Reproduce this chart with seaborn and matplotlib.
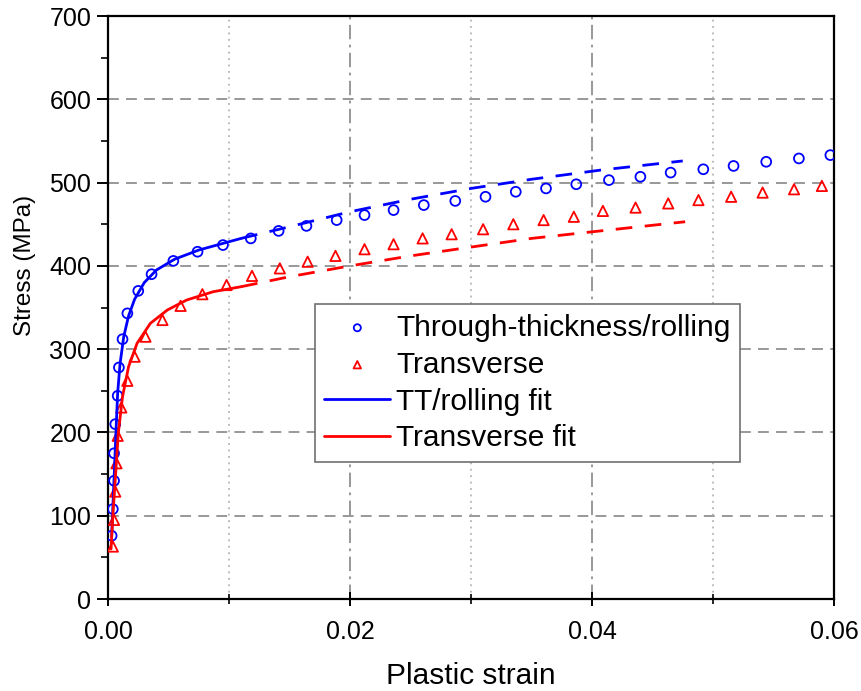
import numpy as np
import pandas as pd
import seaborn as sns
import matplotlib.pyplot as plt
from matplotlib.ticker import MultipleLocator

tt_strain = [0.0003, 0.0004, 0.0005, 0.0005, 0.0006, 0.0008, 0.0009, 0.0012, 0.0016, 0.0025,
             0.0036, 0.0054, 0.0074, 0.0095, 0.0118, 0.0141, 0.0164, 0.0189, 0.0212, 0.0236,
             0.0261, 0.0287, 0.0312, 0.0337, 0.0362, 0.0387, 0.0414, 0.0440, 0.0465, 0.0492,
             0.0517, 0.0544, 0.0571, 0.0597]
tt_stress = [76, 108, 142, 175, 210, 244, 278, 312, 343, 370,
             390, 406, 417, 425, 433, 442, 448, 455, 461, 467,
             473, 478, 483, 489, 493, 498, 503, 507, 512, 516,
             520, 525, 529, 533]

tr_strain = [0.0004, 0.0005, 0.0006, 0.0007, 0.0008, 0.0011, 0.0016, 0.0022, 0.0031, 0.0045,
             0.0060, 0.0078, 0.0098, 0.0119, 0.0142, 0.0165, 0.0188, 0.0212, 0.0236, 0.0260,
             0.0284, 0.0310, 0.0335, 0.0360, 0.0385, 0.0409, 0.0436, 0.0463, 0.0488, 0.0515,
             0.0541, 0.0567, 0.0590]
tr_stress = [63, 95, 129, 163, 196, 230, 262, 291, 315, 335,
             352, 366, 377, 388, 397, 405, 412, 420, 426, 433,
             438, 444, 450, 455, 459, 466, 470, 475, 479, 483,
             488, 492, 496]

# Fit curves (traced), solid up to fit_split, dashed beyond
tt_fit_strain = [0.0003, 0.0004, 0.0005, 0.0006, 0.0007, 0.0008, 0.0010, 0.0013, 0.0017, 0.0022,
                 0.0030, 0.0040, 0.0055, 0.0075, 0.0095, 0.0110, 0.0150, 0.0200, 0.0250, 0.0300,
                 0.0350, 0.0407, 0.0475]
tt_fit_stress = [75, 110, 145, 180, 215, 248, 283, 315, 340, 360,
                 380, 395, 408, 419, 427, 433, 447, 465, 480, 493,
                 504, 515, 526]

tr_fit_strain = [0.00025, 0.0004, 0.00058, 0.00085, 0.0012, 0.0017, 0.0024, 0.0035, 0.0049, 0.0065,
                 0.0087, 0.0110, 0.0150, 0.0200, 0.0250, 0.0302, 0.0350, 0.0407, 0.0477]
tr_fit_stress = [60, 100, 139, 199, 243, 279, 307, 331, 347, 359,
                 369, 375, 387, 400, 412, 423, 433, 442, 453]

fit_split = 0.011

sns.set_style("ticks")
plt.rcParams['font.family'] = ['Liberation Sans', 'DejaVu Sans']
plt.rcParams['text.color'] = 'black'
plt.rcParams['axes.labelcolor'] = 'black'
plt.rcParams['xtick.color'] = 'black'
plt.rcParams['ytick.color'] = 'black'

fig = plt.figure(figsize=(8.62, 6.91), dpi=100)
ax = fig.add_axes([0.1253, 0.1331, 0.8422, 0.8437])

blue = "#0000ff"
red = "#ff0000"

tt_fit = pd.DataFrame({"x": tt_fit_strain, "y": tt_fit_stress})
tr_fit = pd.DataFrame({"x": tr_fit_strain, "y": tr_fit_stress})

# grid
for yv in range(100, 700, 100):
    ax.axhline(yv, color="#909090", lw=1.3, ls=(0, (6, 4)), zorder=0)
for xv in [0.02, 0.04]:
    ax.axvline(xv, color="#909090", lw=1.3, ls=(0, (8, 3, 1.5, 3)), zorder=0)
for xv in [0.01, 0.03, 0.05]:
    ax.axvline(xv, color="#a8a8a8", lw=1.1, ls=(0, (1.2, 3)), zorder=0)

sns.scatterplot(x=tt_strain, y=tt_stress, ax=ax, marker="o", s=50, facecolor="none",
                edgecolor=blue, linewidth=1.3, label="Through-thickness/rolling", zorder=3)
sns.scatterplot(x=tr_strain, y=tr_stress, ax=ax, marker="^", s=55, facecolor="none",
                edgecolor=red, linewidth=1.3, label="Transverse", zorder=3)

sns.lineplot(data=tt_fit[tt_fit.x <= fit_split], x="x", y="y", ax=ax, color=blue, lw=2,
             sort=False, estimator=None, label="TT/rolling fit", zorder=4)
sns.lineplot(data=tr_fit[tr_fit.x <= fit_split], x="x", y="y", ax=ax, color=red, lw=2,
             sort=False, estimator=None, label="Transverse fit", zorder=4)
sns.lineplot(data=tt_fit[tt_fit.x >= fit_split], x="x", y="y", ax=ax, color=blue, lw=2,
             sort=False, estimator=None, zorder=4)
sns.lineplot(data=tr_fit[tr_fit.x >= fit_split], x="x", y="y", ax=ax, color=red, lw=2,
             sort=False, estimator=None, zorder=4)
for ln in ax.lines[-2:]:
    ln.set_dashes((6, 4.5))

ax.set_xlim(0, 0.06)
ax.set_ylim(0, 700)
ax.xaxis.set_major_locator(MultipleLocator(0.02))
ax.xaxis.set_minor_locator(MultipleLocator(0.01))
ax.yaxis.set_major_locator(MultipleLocator(100))
ax.yaxis.set_minor_locator(MultipleLocator(50))
ax.set_xticks([0, 0.02, 0.04, 0.06], ["0.00", "0.02", "0.04", "0.06"])
ax.tick_params(axis="x", which="major", direction="inout", length=10, width=1.4, labelsize=18, pad=10)
ax.tick_params(axis="x", which="minor", direction="inout", length=7, width=1.2)
ax.tick_params(axis="y", which="major", direction="out", length=8, width=1.4, labelsize=18, pad=4)
ax.tick_params(axis="y", which="minor", direction="out", length=5, width=1.2)
for sp in ax.spines.values():
    sp.set_linewidth(1.6)
    sp.set_color("black")

ax.set_xlabel("Plastic strain", fontsize=21.5)
ax.set_ylabel("Stress (MPa)", fontsize=17.5)
ax.xaxis.set_label_coords(0.5, -0.108)
ax.yaxis.set_label_coords(-0.099, 0.573)

leg = ax.legend(loc="upper left", bbox_to_anchor=(0.285, 0.506), fontsize=21.5,
                frameon=True, fancybox=False, edgecolor="#707070", framealpha=1,
                handlelength=2.2, handletextpad=0.2, labelspacing=0.3, borderpad=0.32,
                borderaxespad=0, markerscale=0.72)
leg.get_frame().set_linewidth(1.2)

fig.savefig("out.png", dpi=100)
